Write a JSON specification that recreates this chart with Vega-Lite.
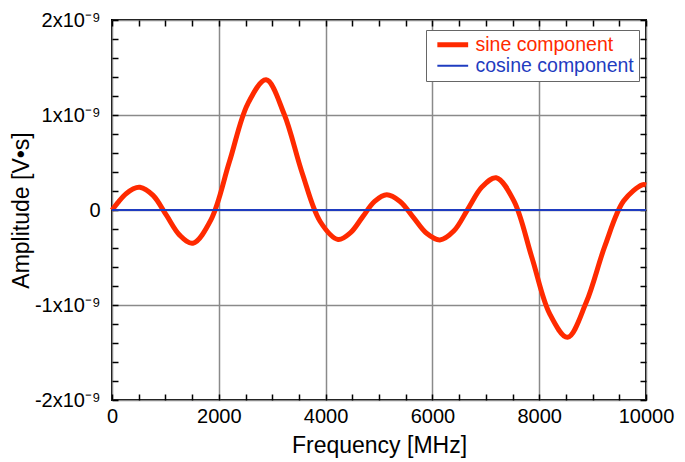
{
  "$schema": "https://vega.github.io/schema/vega-lite/v6.json",
  "width": 534,
  "height": 380,
  "autosize": {"type": "none"},
  "padding": {"left": 112, "top": 20, "right": 38, "bottom": 62},
  "background": "white",
  "config": {
    "view": {"stroke": "black", "strokeWidth": 2},
    "font": "Liberation Sans",
    "axis": {"labelFont": "Liberation Sans", "titleFont": "Liberation Sans", "labelColor": "black", "titleColor": "black", "titleFontWeight": "normal"}
  },
  "data": {
    "values": [
      {"f": 0, "a": 0, "s": "sine component"},
      {"f": 130, "a": 0.092e-9, "s": "sine component"},
      {"f": 260, "a": 0.17e-9, "s": "sine component"},
      {"f": 391, "a": 0.222e-9, "s": "sine component"},
      {"f": 521, "a": 0.24e-9, "s": "sine component"},
      {"f": 769, "a": 0.154e-9, "s": "sine component"},
      {"f": 1018, "a": -0.055e-9, "s": "sine component"},
      {"f": 1266, "a": -0.264e-9, "s": "sine component"},
      {"f": 1514, "a": -0.35e-9, "s": "sine component"},
      {"f": 1857, "a": -0.098e-9, "s": "sine component"},
      {"f": 2200, "a": 0.51e-9, "s": "sine component"},
      {"f": 2543, "a": 1.118e-9, "s": "sine component"},
      {"f": 2886, "a": 1.37e-9, "s": "sine component"},
      {"f": 3223, "a": 1.01e-9, "s": "sine component"},
      {"f": 3561, "a": 0.39e-9, "s": "sine component"},
      {"f": 3898, "a": -0.121e-9, "s": "sine component"},
      {"f": 4235, "a": -0.31e-9, "s": "sine component"},
      {"f": 4463, "a": -0.241e-9, "s": "sine component"},
      {"f": 4690, "a": -0.075e-9, "s": "sine component"},
      {"f": 4918, "a": 0.091e-9, "s": "sine component"},
      {"f": 5145, "a": 0.16e-9, "s": "sine component"},
      {"f": 5394, "a": 0.09e-9, "s": "sine component"},
      {"f": 5643, "a": -0.0775e-9, "s": "sine component"},
      {"f": 5891, "a": -0.245e-9, "s": "sine component"},
      {"f": 6140, "a": -0.315e-9, "s": "sine component"},
      {"f": 6404, "a": -0.219e-9, "s": "sine component"},
      {"f": 6667, "a": 0.0125e-9, "s": "sine component"},
      {"f": 6931, "a": 0.244e-9, "s": "sine component"},
      {"f": 7194, "a": 0.34e-9, "s": "sine component"},
      {"f": 7528, "a": 0.094e-9, "s": "sine component"},
      {"f": 7863, "a": -0.5e-9, "s": "sine component"},
      {"f": 8197, "a": -1.094e-9, "s": "sine component"},
      {"f": 8531, "a": -1.34e-9, "s": "sine component"},
      {"f": 8881, "a": -0.972e-9, "s": "sine component"},
      {"f": 9231, "a": -0.378e-9, "s": "sine component"},
      {"f": 9580, "a": 0.094e-9, "s": "sine component"},
      {"f": 9930, "a": 0.265e-9, "s": "sine component"},
      {"f": 10000, "a": 0.263e-9, "s": "sine component"},
      {"f": 0, "a": 0, "s": "cosine component"},
      {"f": 1000, "a": 0, "s": "cosine component"},
      {"f": 2000, "a": 0, "s": "cosine component"},
      {"f": 3000, "a": 0, "s": "cosine component"},
      {"f": 4000, "a": 0, "s": "cosine component"},
      {"f": 5000, "a": 0, "s": "cosine component"},
      {"f": 6000, "a": 0, "s": "cosine component"},
      {"f": 7000, "a": 0, "s": "cosine component"},
      {"f": 8000, "a": 0, "s": "cosine component"},
      {"f": 9000, "a": 0, "s": "cosine component"},
      {"f": 10000, "a": 0, "s": "cosine component"}
    ]
  },
  "resolve": {"scale": {"x": "shared", "y": "shared"}, "axis": {"x": "independent", "y": "independent"}},
  "layer": [
    {
      "mark": {"type": "line", "interpolate": "catmull-rom", "strokeCap": "butt"},
      "encoding": {
        "x": {
          "field": "f", "type": "quantitative",
          "scale": {"domain": [0, 10000], "nice": false, "zero": false},
          "axis": {
            "orient": "bottom",
            "values": [0, 2000, 4000, 6000, 8000, 10000],
            "format": "d",
            "ticks": false, "domain": false,
            "grid": true, "gridColor": "#8a8a8a", "gridWidth": 1.5,
            "labelFontSize": 20, "labelPadding": 6, "labelFlush": false,
            "title": "Frequency [MHz]", "titleFontSize": 23,
            "titleY": 45, "titleBaseline": "middle"
          }
        },
        "y": {
          "field": "a", "type": "quantitative",
          "scale": {"domain": [-2e-9, 2e-9], "nice": false, "zero": false},
          "axis": {
            "orient": "left",
            "values": [-2e-9, -1e-9, 0, 1e-9, 2e-9],
            "labelExpr": "datum.value == 0 ? '0' : round(datum.value*1e9) + 'x10⁻⁹'",
            "ticks": false, "domain": false,
            "grid": true, "gridColor": "#8a8a8a", "gridWidth": 1.5,
            "labelFontSize": 20, "labelPadding": 12, "labelFlush": false,
            "title": "Amplitude [V•s]", "titleFontSize": 23,
            "titleX": -91, "titleY": 190, "titleBaseline": "middle", "titleAngle": -90
          }
        },
        "color": {
          "field": "s", "type": "nominal",
          "scale": {"domain": ["sine component", "cosine component"], "range": ["#ff2a00", "#1f3cc0"]},
          "legend": {
            "title": null,
            "orient": "none", "legendX": 314, "legendY": 10,
            "strokeColor": "#666666", "fillColor": "white", "padding": 5,
            "symbolType": "M-2.8,0H2.8", "symbolSize": 121, "symbolStrokeWidth": 3, "symbolOffset": 12,
            "labelFont": "Liberation Sans", "labelFontSize": 19.5, "labelOffset": 13,
            "rowPadding": 0,
            "encode": {
              "labels": {"update": {"fill": {"signal": "datum.label === 'sine component' ? '#ff2a00' : '#1f3cc0'"}}},
              "symbols": {"update": {"strokeWidth": {"signal": "datum.value === 'sine component' ? 4.5 : 2"}}}
            }
          }
        },
        "strokeWidth": {
          "field": "s", "type": "nominal",
          "scale": {"domain": ["sine component", "cosine component"], "range": [5, 2]},
          "legend": null
        }
      }
    },
    {
      "mark": {"type": "point", "opacity": 0},
      "encoding": {
        "x": {
          "field": "f", "type": "quantitative",
          "scale": {"domain": [0, 10000], "nice": false, "zero": false},
          "axis": {
            "orient": "bottom",
            "values": [0, 500, 1000, 1500, 2000, 2500, 3000, 3500, 4000, 4500, 5000, 5500, 6000, 6500, 7000, 7500, 8000, 8500, 9000, 9500, 10000],
            "labels": false, "domain": false, "grid": false, "title": null,
            "ticks": true, "tickSize": -6, "tickColor": "black", "tickWidth": 1.5
          }
        }
      }
    },
    {
      "mark": {"type": "point", "opacity": 0},
      "encoding": {
        "x": {
          "field": "f", "type": "quantitative",
          "scale": {"domain": [0, 10000], "nice": false, "zero": false},
          "axis": {
            "orient": "top",
            "values": [0, 500, 1000, 1500, 2000, 2500, 3000, 3500, 4000, 4500, 5000, 5500, 6000, 6500, 7000, 7500, 8000, 8500, 9000, 9500, 10000],
            "labels": false, "domain": false, "grid": false, "title": null,
            "ticks": true, "tickSize": -6, "tickColor": "black", "tickWidth": 1.5
          }
        }
      }
    },
    {
      "mark": {"type": "point", "opacity": 0},
      "encoding": {
        "y": {
          "field": "a", "type": "quantitative",
          "scale": {"domain": [-2e-9, 2e-9], "nice": false, "zero": false},
          "axis": {
            "orient": "left",
            "values": [-2e-9, -1.8e-9, -1.6e-9, -1.4e-9, -1.2e-9, -1e-9, -0.8e-9, -0.6e-9, -0.4e-9, -0.2e-9, 0, 0.2e-9, 0.4e-9, 0.6e-9, 0.8e-9, 1e-9, 1.2e-9, 1.4e-9, 1.6e-9, 1.8e-9, 2e-9],
            "labels": false, "domain": false, "grid": false, "title": null,
            "ticks": true, "tickSize": -6, "tickColor": "black", "tickWidth": 1.5
          }
        }
      }
    },
    {
      "mark": {"type": "point", "opacity": 0},
      "encoding": {
        "y": {
          "field": "a", "type": "quantitative",
          "scale": {"domain": [-2e-9, 2e-9], "nice": false, "zero": false},
          "axis": {
            "orient": "right",
            "values": [-2e-9, -1.8e-9, -1.6e-9, -1.4e-9, -1.2e-9, -1e-9, -0.8e-9, -0.6e-9, -0.4e-9, -0.2e-9, 0, 0.2e-9, 0.4e-9, 0.6e-9, 0.8e-9, 1e-9, 1.2e-9, 1.4e-9, 1.6e-9, 1.8e-9, 2e-9],
            "labels": false, "domain": false, "grid": false, "title": null,
            "ticks": true, "tickSize": -6, "tickColor": "black", "tickWidth": 1.5
          }
        }
      }
    }
  ]
}
